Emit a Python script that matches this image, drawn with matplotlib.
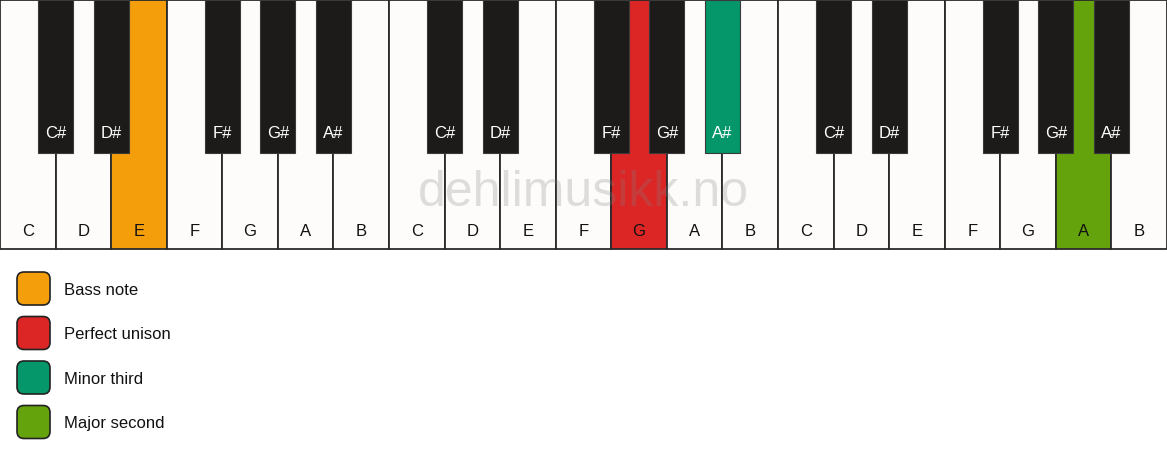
import matplotlib
matplotlib.use("Agg")
import matplotlib.pyplot as plt
from matplotlib.patches import Rectangle, FancyBboxPatch

plt.rcParams["font.family"] = ["Liberation Sans", "DejaVu Sans"]

OCTAVES = 3
WHITE_NOTES = ["C", "D", "E", "F", "G", "A", "B"]
# black key sitting to the right of each white note
BLACK_AFTER = {"C": "C#", "D": "D#", "F": "F#", "G": "G#", "A": "A#"}

# highlighted keys as (octave, note)
HIGHLIGHT_KEYS = [(0, "E"), (1, "G"), (1, "A#"), (2, "A")]
HIGHLIGHT_COLOURS = ["#F59E0B", "#DC2626", "#059669", "#65A30D"]
LEGEND_LABELS = ["Bass note", "Perfect unison", "Minor third", "Major second"]
WATERMARK = "dehlimusikk.no"

W, H = 1167, 461
WHITE_H = 249
BLACK_H = 153
BLACK_W = 35
WHITE_FILL = "#FDFCFA"
BLACK_FILL = "#1C1B1A"
EDGE = "#2a2a2a"
FS = 12

hl = {k: c for k, c in zip(HIGHLIGHT_KEYS, HIGHLIGHT_COLOURS)}

fig = plt.figure(figsize=(W / 100, H / 100), dpi=100)
ax = fig.add_axes([0, 0, 1, 1])
ax.set_xlim(0, W)
ax.set_ylim(H, 0)
ax.axis("off")

n_white = OCTAVES * len(WHITE_NOTES)
key_w = W / n_white

# white keys
for o in range(OCTAVES):
    for j, note in enumerate(WHITE_NOTES):
        x = (o * len(WHITE_NOTES) + j) * key_w
        fc = hl.get((o, note), WHITE_FILL)
        ax.add_patch(Rectangle((x, 0.5), key_w, WHITE_H - 0.5, facecolor=fc,
                               edgecolor=EDGE, linewidth=1.3, zorder=1))
        ax.text(x + key_w / 2, 231, note, ha="center", va="center",
                fontsize=FS, color="#111111", zorder=2)

# watermark
ax.text(W / 2, 193, WATERMARK, ha="center", va="center", fontsize=36,
        color=(0.5, 0.5, 0.5), alpha=0.25, zorder=3)

# black keys
for o in range(OCTAVES):
    for j, note in enumerate(WHITE_NOTES):
        if note not in BLACK_AFTER:
            continue
        name = BLACK_AFTER[note]
        xc = (o * len(WHITE_NOTES) + j + 1) * key_w
        fc = hl.get((o, name), BLACK_FILL)
        ax.add_patch(Rectangle((xc - BLACK_W / 2, 0.5), BLACK_W, BLACK_H - 0.5,
                               facecolor=fc, edgecolor="#3a3a3a", linewidth=0.8, zorder=4))
        ax.text(xc, 133.5, name, ha="center", va="center", fontsize=FS,
                color="white", zorder=5)

# legend
for i, (col, lab) in enumerate(zip(HIGHLIGHT_COLOURS, LEGEND_LABELS)):
    yc = 288.5 + i * 44.5
    ax.add_patch(FancyBboxPatch((17, yc - 16.5), 33, 33,
                                boxstyle="round,pad=0,rounding_size=7",
                                facecolor=col, edgecolor="#222222", linewidth=1.2))
    ax.text(64, yc + 1.5, lab, ha="left", va="center", fontsize=FS, color="#111111")

fig.savefig("out.png", dpi=100, facecolor="white")
